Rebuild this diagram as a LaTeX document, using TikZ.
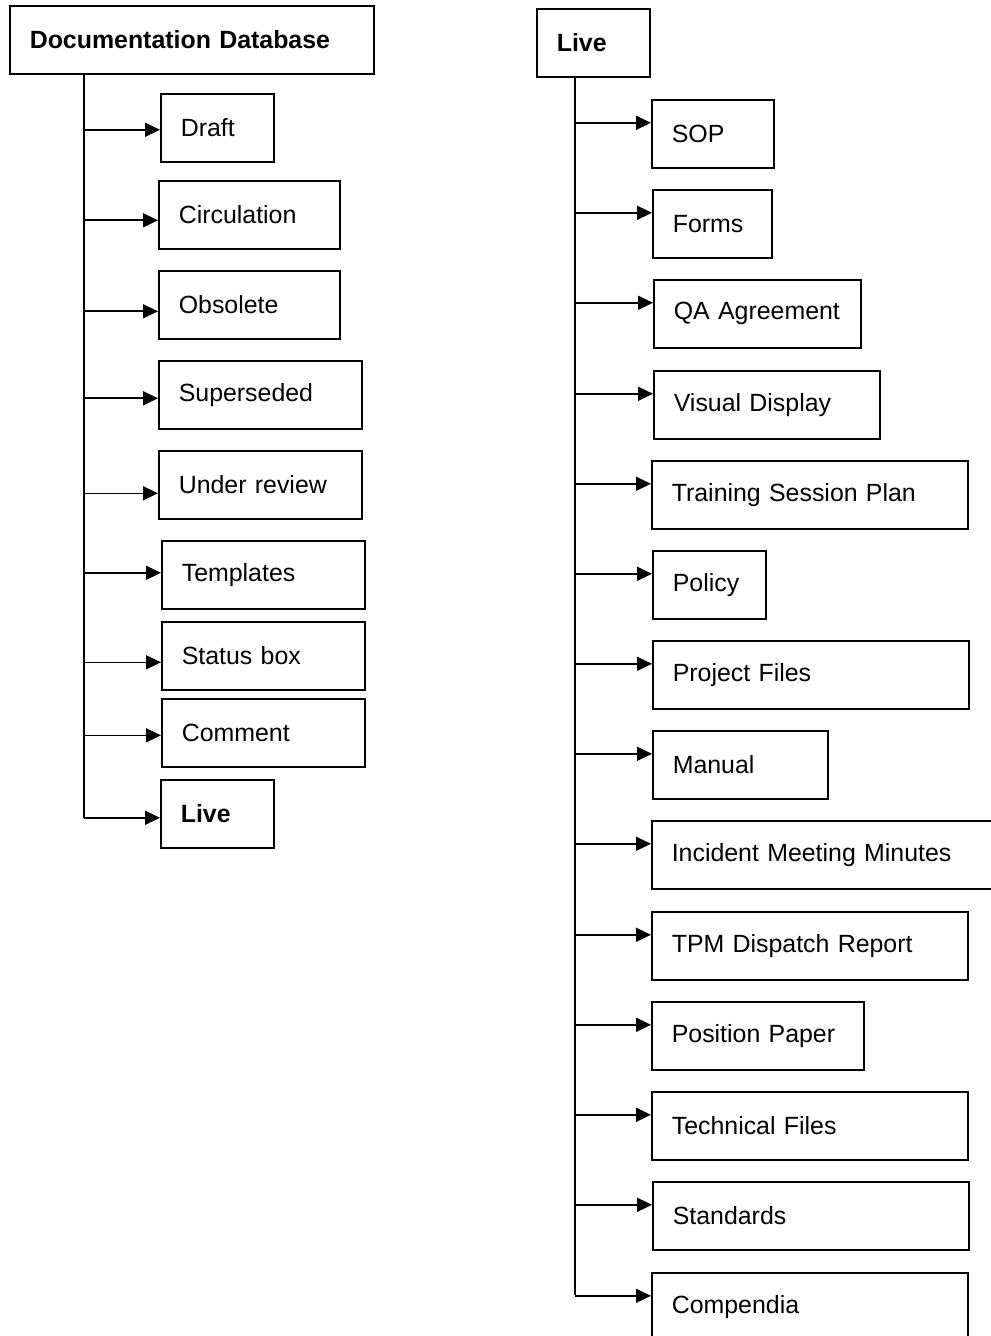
\documentclass[tikz,border=0pt]{standalone}
\usepackage{fontspec}
\setmainfont{Liberation Sans}
\usetikzlibrary{arrows.meta}
\begin{document}
\begin{tikzpicture}[x=0.5pt,y=-0.5pt]

    \tikzset{
      box/.style={
        draw,
        line width=0.8pt,
        anchor=north west,
        minimum height=34pt,
        inner xsep=10pt,
        inner ysep=0pt,
        align=left,
        font=\fontsize{12.45}{15}\selectfont,
      },
      link/.style={line width=0.8pt},
      arr/.style={link,-{Triangle[length=7.5pt,width=7pt]}},
    }
    \useasboundingbox (0,0) rectangle (990,1336);

    % left tree
    \node[box, text width=162pt] (doc) at (9,5) {\textbf{Documentation Database}};
    \coordinate (lend) at (84,818);
    \draw[link] (doc.south -| lend) -- (lend);
    \foreach \n/\t/\x/\y/\w/\d in {draft/Draft/160/93/113/2,
        circ/Circulation/158/180/181/5.5,
        obs/Obsolete/158/270/181/6.5,
        supd/Superseded/158/360/203/3.5,
        rev/Under review/158/450/203/8.5,
        tmpl/Templates/161/540/203/-2,
        stat/Status box/161/621/203/6.5,
        comm/Comment/161/698/203/2.5,
        live/\textbf{Live}/160/779/113/4}{
      \pgfmathsetmacro\tw{\w*0.5-20}
      \pgfmathsetmacro\dy{-0.5*\d}
      \node[box, text width=\tw pt] (\n) at (\x,\y) {\t};
      \draw[arr] ([yshift=\dy pt]\n.west -| lend) -- ([yshift=\dy pt]\n.west);
    }

    % right tree
    \node[box, text width=36.5pt] (top) at (536,8) {\textbf{Live}};
    \coordinate (rend) at (575,1295);
    \draw[link] (top.south -| rend) -- (rend);
    \foreach \n/\t/\x/\y/\w in {sop/SOP/651/99/122,
        forms/Forms/652/189/119,
        qa/QA Agreement/653/279/207,
        vis/Visual Display/653/370/226,
        tsp/Training Session Plan/651/460/316,
        pol/Policy/652/550/113,
        proj/Project Files/652/640/316,
        man/Manual/652/730/175,
        inc/Incident Meeting Minutes/651/820/360,
        tpm/TPM Dispatch Report/651/911/316,
        pos/Position Paper/651/1001/212,
        tech/Technical Files/651/1091/316,
        std/Standards/652/1181/316,
        comp/Compendia/651/1272/316}{
      \pgfmathsetmacro\tw{\w*0.5-20}
      \node[box, text width=\tw pt] (\n) at (\x,\y) {\t};
      \draw[arr] ([yshift=5.5pt]\n.west -| rend) -- ([yshift=5.5pt]\n.west);
    }

\end{tikzpicture}
\end{document}
